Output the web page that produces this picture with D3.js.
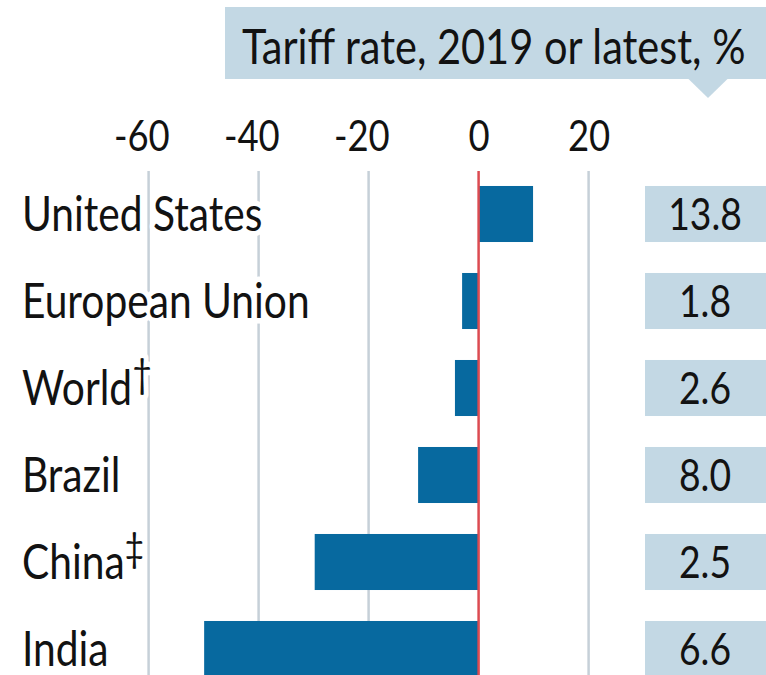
<!DOCTYPE html>
<html>
<head>
<meta charset="utf-8">
<script src="https://cdn.jsdelivr.net/npm/d3@7"></script>
<style>
  body { margin: 0; background: #fff; }
  svg { display: block; }
  text { font-family: Lato, "Open Sans", sans-serif; fill: #121212; }
</style>
</head>
<body>
<svg id="chart" width="766" height="675"></svg>
<script>
"use strict";

var countries = ['United States', 'European Union', 'World', 'Brazil', 'China', 'India'];
var footnote_marks = ['', '', '\u2020', '', '\u2021', ''];
var bar_values = [9.9, -3.0, -4.3, -11.0, -29.8, -49.9];
var tariff_rates = [13.8, 1.8, 2.6, 8.0, 2.5, 6.6];
var tick_values = [-60, -40, -20, 0, 20];
var title_text = 'Tariff rate, 2019 or latest, %';

function draw_chart() {

    var d3 = window.d3;

    const colors = {
        bar: '#07699f',
        box: '#c3d8e4',
        grid: '#c6d0d8',
        zero: '#dc4b51',
        text: '#121212'
    };
    const dims = {
        w: 766,
        h: 675,
        grid_top: 171,
        row_top: 170.5,
        row_step: 87,
        box_left: 645,
        squeeze: 0.848   // the original face is a condensed one
    };

    function squeezed(x, y) {
        return 'translate(' + x + ', ' + y + ') scale(' + dims.squeeze + ', 1)';
    }

    var rows = countries.map((c, i) => ({
        country: c,
        mark: footnote_marks[i],
        value: bar_values[i],
        rate: tariff_rates[i]
    }));

    var svg = d3.select('#chart');

    // scales
    var scale_x = d3.scaleLinear().domain([-60, 20]).range([148.6, 588.6]);
    var scale_y = d3.scaleBand()
        .domain(countries)
        .range([dims.row_top, dims.row_top + dims.row_step * countries.length])
        .paddingInner(0.356)
        .paddingOuter(0.178)
    ;

    // title box with its little pointer
    var title = svg.append('g').classed('title', true);
    title.append('rect')
        .attr('x', 225).attr('y', 7)
        .attr('width', dims.w - 225 + 5).attr('height', 72)
        .attr('fill', colors.box)
    ;
    title.append('path')
        .attr('d', 'M688,78.5 L728,78.5 L708,98 Z')
        .attr('fill', colors.box)
    ;
    title.append('text')
        .attr('transform', squeezed(242, 64))
        .style('font-size', '49px')
        .text(title_text)
    ;

    // axis on top, only labels and the vertical grid
    var axis_x = svg.append('g').classed('axis-x', true)
        .attr('transform', 'translate(0, 151)')
        .call(d3.axisTop(scale_x).tickValues(tick_values).tickSize(0).tickPadding(0)
            .tickFormat(d => String(d)))
    ;
    axis_x.select('.domain').remove();
    axis_x.selectAll('text')
        .attr('y', 0)
        .attr('dy', 0)
        .attr('dx', d => d < 0 ? '-0.2em' : 0)
        .attr('transform', 'scale(' + dims.squeeze + ', 1)')
        .attr('fill', colors.text)
        .style('font-size', '43px')
        .style('font-family', 'Lato, "Open Sans", sans-serif')
    ;

    svg.append('g').classed('grid', true)
        .selectAll('line')
        .data(tick_values.filter(t => t !== 0)).enter()
        .append('line')
            .attr('x1', d => scale_x(d))
            .attr('x2', d => scale_x(d))
            .attr('y1', dims.grid_top)
            .attr('y2', dims.h)
            .attr('stroke', colors.grid)
            .attr('stroke-width', 2.5)
    ;

    // country names, white halo cuts the grid behind them
    var labels = svg.append('g').classed('labels', true)
        .selectAll('text')
        .data(rows).enter()
        .append('text')
            .attr('transform', d => squeezed(22, scale_y(d.country) + scale_y.bandwidth() / 2))
            .attr('dy', '0.35em')
            .style('font-size', '48px')
            .attr('stroke', '#fff')
            .attr('stroke-width', 11)
            .attr('stroke-linejoin', 'round')
            .attr('paint-order', 'stroke')
    ;
    labels.append('tspan').text(d => d.country);
    labels.filter(d => d.mark)
        .append('tspan')
            .attr('dy', '-0.42em')
            .style('font-size', '40px')
            .text(d => d.mark)
    ;

    // bars
    svg.append('g').classed('bars', true)
        .selectAll('.bar')
        .data(rows).enter()
        .append('rect')
            .classed('bar', true)
            .attr('x', d => scale_x(Math.min(0, d.value)))
            .attr('y', d => scale_y(d.country))
            .attr('width', d => Math.abs(scale_x(d.value) - scale_x(0)))
            .attr('height', scale_y.bandwidth())
            .attr('fill', colors.bar)
    ;

    svg.append('line')
        .classed('zero', true)
        .attr('x1', scale_x(0)).attr('x2', scale_x(0))
        .attr('y1', dims.grid_top).attr('y2', dims.h)
        .attr('stroke', colors.zero)
        .attr('stroke-width', 2.5)
    ;

    // tariff rate boxes on the right
    var boxes = svg.append('g').classed('rates', true)
        .selectAll('g')
        .data(rows).enter()
        .append('g')
            .attr('transform', d => 'translate(' + dims.box_left + ', ' + scale_y(d.country) + ')')
    ;
    boxes.append('rect')
        .attr('width', dims.w - dims.box_left + 5)
        .attr('height', scale_y.bandwidth())
        .attr('fill', colors.box)
    ;
    boxes.append('text')
        .attr('transform', squeezed(60, scale_y.bandwidth() / 2))
        .attr('dy', '0.36em')
        .attr('text-anchor', 'middle')
        .style('font-size', '44px')
        .text(d => d.rate.toFixed(1))
    ;
}

draw_chart();
</script>
</body>
</html>
